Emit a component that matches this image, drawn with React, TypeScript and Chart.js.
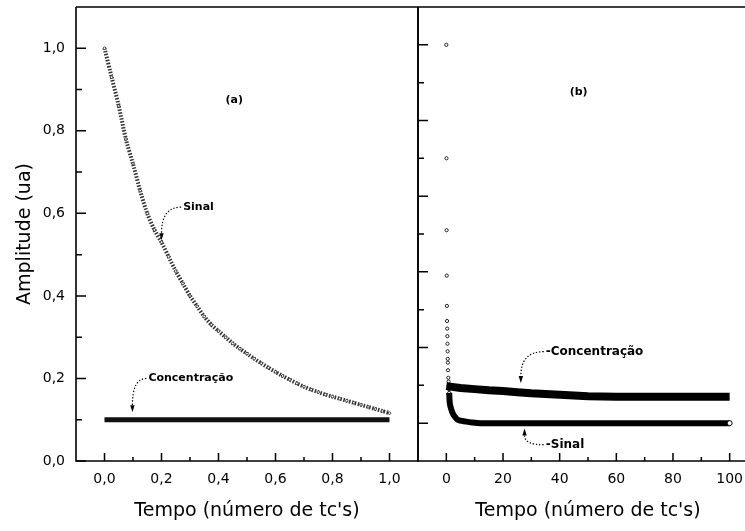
import React, { useEffect, useRef } from 'react';
import { Chart, registerables } from 'chart.js';

Chart.register(...registerables);

// ---------- Panel (a): time 0..1 tc ----------
const timeA = [0, 0.025, 0.05, 0.075, 0.1, 0.125, 0.15, 0.175, 0.2, 0.225, 0.25, 0.275, 0.3, 0.325, 0.35, 0.375, 0.4, 0.425, 0.45, 0.475, 0.5, 0.525, 0.55, 0.575, 0.6, 0.625, 0.65, 0.675, 0.7, 0.725, 0.75, 0.775, 0.8, 0.825, 0.85, 0.875, 0.9, 0.925, 0.95, 0.975, 1.0];
const sinalA = [1.0, 0.93, 0.86, 0.78, 0.72, 0.655, 0.6, 0.56, 0.53, 0.495, 0.46, 0.43, 0.4, 0.375, 0.35, 0.33, 0.315, 0.3, 0.285, 0.272, 0.26, 0.248, 0.237, 0.226, 0.216, 0.206, 0.197, 0.188, 0.18, 0.173, 0.167, 0.161, 0.156, 0.151, 0.146, 0.141, 0.136, 0.131, 0.126, 0.121, 0.116];
const concA = [0.1, 0.1, 0.1, 0.1, 0.1, 0.1, 0.1, 0.1, 0.1, 0.1, 0.1, 0.1, 0.1, 0.1, 0.1, 0.1, 0.1, 0.1, 0.1, 0.1, 0.1, 0.1, 0.1, 0.1, 0.1, 0.1, 0.1, 0.1, 0.1, 0.1, 0.1, 0.1, 0.1, 0.1, 0.1, 0.1, 0.1, 0.1, 0.1, 0.1, 0.1];

const xTicksA = [0, 0.2, 0.4, 0.6, 0.8, 1.0];
const xTickLabelsA = ['0,0', '0,2', '0,4', '0,6', '0,8', '1,0'];
const xMinorA = [0.1, 0.3, 0.5, 0.7, 0.9];
const yTicks = [0, 0.2, 0.4, 0.6, 0.8, 1.0];
const yTickLabels = ['0,0', '0,2', '0,4', '0,6', '0,8', '1,0'];
const yMinor = [0.1, 0.3, 0.5, 0.7, 0.9];

// ---------- Panel (b): time 0..100 tc ----------
const timeBFast = [0, 0.05, 0.1, 0.15, 0.2, 0.25, 0.3, 0.35, 0.4, 0.45, 0.5, 0.55, 0.6, 0.7, 0.8, 0.9, 1.0];
const sinalBFast = [1.0, 0.7, 0.51, 0.39, 0.31, 0.27, 0.25, 0.23, 0.21, 0.19, 0.17, 0.16, 0.14, 0.12, 0.11, 0.09, 0.08];
const timeBSinal = [1.0, 1.2, 1.6, 2.2, 3, 4, 5.5, 7, 9, 12, 16, 20, 30, 40, 50, 60, 70, 80, 90, 100];
const sinalB = [0.08, 0.054, 0.04, 0.027, 0.017, 0.009, 0.006, 0.004, 0.002, 0.0, 0.0, 0.0, 0.0, 0.0, 0.0, 0.0, 0.0, 0.0, 0.0, 0.0];
const timeBConc = [0, 2, 5, 10, 15, 20, 25, 30, 35, 40, 45, 50, 60, 70, 80, 90, 100];
const concB = [0.098, 0.096, 0.093, 0.09, 0.087, 0.085, 0.082, 0.079, 0.077, 0.075, 0.073, 0.071, 0.07, 0.07, 0.07, 0.07, 0.07];

const xTicksB = [0, 20, 40, 60, 80, 100];
const xTickLabelsB = ['0', '20', '40', '60', '80', '100'];
const xMinorB = [10, 30, 50, 70, 90];
const yTicksB = [0, 0.2, 0.4, 0.6, 0.8, 1.0];
const yMinorB = [0.1, 0.3, 0.5, 0.7, 0.9];

// ---------- annotations (data coordinates) ----------
const notesA = [
  { text: 'Sinal', x: 0.276, y: 0.615, tipX: 0.2, tipY: 0.535, dir: 1 },
  { text: 'Concentração', x: 0.154, y: 0.2, tipX: 0.098, tipY: 0.118, dir: 1 },
];
const panelLabelA = { text: '(a)', x: 0.455, y: 0.875 };
const notesB = [
  { text: '-Concentração', x: 35.1, y: 0.189, tipX: 26.3, tipY: 0.106, dir: 1 },
  { text: '-Sinal', x: 35.1, y: -0.057, tipX: 27.6, tipY: -0.014, dir: -1 },
];
const panelLabelB = { text: '(b)', x: 46.7, y: 0.875 };

const FAMILY = '"DejaVu Sans", "Liberation Sans", Arial, sans-serif';

function pts(xs: number[], ys: number[]) {
  return xs.map((x, i) => ({ x, y: ys[i] }));
}

function noPad(s: any) {
  s.paddingTop = 0;
  s.paddingBottom = 0;
  s.paddingLeft = 0;
  s.paddingRight = 0;
}

function drawArrow(ctx: CanvasRenderingContext2D, sx: number, sy: number, tx: number, ty: number, dir: number) {
  const head = 7;
  const ey = ty - dir * head;
  ctx.save();
  ctx.strokeStyle = '#000';
  ctx.fillStyle = '#000';
  ctx.setLineDash([1.4, 1.8]);
  ctx.lineWidth = 1.2;
  ctx.beginPath();
  ctx.moveTo(sx, sy);
  ctx.quadraticCurveTo(tx, sy, tx, ey);
  ctx.stroke();
  ctx.setLineDash([]);
  ctx.beginPath();
  ctx.moveTo(tx - 2.2, ey);
  ctx.lineTo(tx + 2.2, ey);
  ctx.lineTo(tx, ty);
  ctx.closePath();
  ctx.fill();
  ctx.restore();
}

function makeFrame(cfg: any) {
  return {
    id: 'frame_' + cfg.name,
    afterDraw(chart: any) {
      const { ctx, chartArea: a, scales } = chart;
      const xs = scales.x;
      const ys = scales.y;
      ctx.save();
      ctx.strokeStyle = '#000';
      ctx.lineWidth = 1.6;
      ctx.beginPath();
      ctx.moveTo(a.left, a.top);
      ctx.lineTo(a.right, a.top);
      ctx.moveTo(a.left, a.top);
      ctx.lineTo(a.left, a.bottom);
      ctx.moveTo(a.left - 0.8, a.bottom);
      ctx.lineTo(a.right + 0.8, a.bottom);
      ctx.moveTo(a.right, a.top);
      ctx.lineTo(a.right, a.bottom);
      ctx.stroke();

      ctx.lineWidth = 1.5;
      ctx.beginPath();
      cfg.xMajor.forEach((v: number) => {
        const px = xs.getPixelForValue(v);
        ctx.moveTo(px, a.bottom);
        ctx.lineTo(px, a.bottom - 8);
      });
      cfg.xMinor.forEach((v: number) => {
        const px = xs.getPixelForValue(v);
        ctx.moveTo(px, a.bottom);
        ctx.lineTo(px, a.bottom - 4);
      });
      cfg.yMajor.forEach((v: number) => {
        const py = ys.getPixelForValue(v);
        ctx.moveTo(a.left, py);
        ctx.lineTo(a.left + 10, py);
      });
      cfg.yMinor.forEach((v: number) => {
        const py = ys.getPixelForValue(v);
        ctx.moveTo(a.left, py);
        ctx.lineTo(a.left + 6, py);
      });
      ctx.stroke();

      ctx.fillStyle = '#000';
      ctx.textBaseline = 'middle';
      ctx.textAlign = 'left';
      cfg.notes.forEach((n: any) => {
        const tx = xs.getPixelForValue(n.x);
        const ty = ys.getPixelForValue(n.y);
        ctx.font = 'bold ' + cfg.noteSize + 'px ' + FAMILY;
        ctx.fillText(n.text, tx, ty);
        drawArrow(ctx, tx - 2, ty, xs.getPixelForValue(n.tipX), ys.getPixelForValue(n.tipY), n.dir);
      });
      ctx.font = 'bold 11px ' + FAMILY;
      ctx.textAlign = 'center';
      ctx.fillText(cfg.label.text, xs.getPixelForValue(cfg.label.x), ys.getPixelForValue(cfg.label.y));
      ctx.restore();
    },
  };
}

function xScale(min: number, max: number, ticks: number[], labels: string[]) {
  return {
    type: 'linear',
    min,
    max,
    afterBuildTicks: (s: any) => {
      s.ticks = ticks.map((v) => ({ value: v }));
    },
    afterFit: (s: any) => {
      s.height = 70;
      noPad(s);
    },
    grid: { display: false, drawTicks: false },
    border: { display: false },
    ticks: {
      autoSkip: false,
      maxRotation: 0,
      padding: 10,
      color: '#000',
      font: { family: FAMILY, size: 14 },
      callback: (_v: any, i: number) => labels[i],
    },
    title: {
      display: true,
      text: "Tempo (número de tc's)",
      color: '#000',
      font: { family: FAMILY, size: 19 },
      padding: { top: 0, bottom: 9 },
    },
  };
}

export default function App() {
  const refA = useRef<HTMLCanvasElement>(null);
  const refB = useRef<HTMLCanvasElement>(null);

  useEffect(() => {
    document.body.style.margin = '0';
    const chartA = new Chart(refA.current as HTMLCanvasElement, {
      type: 'line',
      data: {
        datasets: [
          {
            label: 'Concentração',
            data: pts(timeA, concA),
            borderColor: '#111',
            borderWidth: 5,
            pointRadius: 0,
            tension: 0,
          },
          {
            label: 'Sinal',
            data: pts(timeA, sinalA),
            borderColor: '#333',
            borderWidth: 4,
            borderDash: [1.5, 1.5],
            pointRadius: 1.3,
            pointBorderWidth: 0.8,
            pointBackgroundColor: '#fff',
            pointBorderColor: '#222',
            tension: 0.3,
          },
        ],
      } as any,
      options: {
        responsive: false,
        animation: false,
        devicePixelRatio: 1,
        layout: { autoPadding: false, padding: { left: 0, right: 2, top: 7, bottom: 0 } },
        plugins: { legend: { display: false }, tooltip: { enabled: false } },
        scales: {
          x: xScale(-0.1, 1.1, xTicksA, xTickLabelsA),
          y: {
            type: 'linear',
            min: 0,
            max: 1.1,
            afterBuildTicks: (s: any) => {
              s.ticks = yTicks.map((v) => ({ value: v }));
            },
            afterFit: (s: any) => {
              s.width = 76;
              noPad(s);
            },
            grid: { display: false, drawTicks: false },
            border: { display: false },
            ticks: {
              autoSkip: false,
              padding: 11,
              color: '#000',
              font: { family: FAMILY, size: 14 },
              callback: (_v: any, i: number) => yTickLabels[i],
            },
            title: {
              display: true,
              text: 'Amplitude (ua)',
              color: '#000',
              font: { family: FAMILY, size: 19 },
              padding: { top: 14, bottom: 0 },
            },
          },
        } as any,
      },
      plugins: [
        makeFrame({ name: 'a', xMajor: xTicksA, xMinor: xMinorA, yMajor: yTicks, yMinor: yMinor, notes: notesA, label: panelLabelA, noteSize: 11 }),
      ],
    });

    const chartB = new Chart(refB.current as HTMLCanvasElement, {
      type: 'line',
      data: {
        datasets: [
          {
            label: 'Concentração',
            data: pts(timeBConc, concB),
            borderColor: '#000',
            borderWidth: 8,
            pointRadius: 0,
            tension: 0,
          },
          {
            label: 'Sinal',
            data: pts(timeBSinal, sinalB),
            borderColor: '#000',
            borderWidth: 6,
            tension: 0.3,
            pointRadius: (c: any) => (c.dataIndex === timeBSinal.length - 1 ? 2.5 : 0),
            pointBackgroundColor: '#fff',
            pointBorderColor: '#000',
            pointBorderWidth: 1,
          },
          {
            label: 'Sinal (início)',
            data: pts(timeBFast, sinalBFast),
            showLine: false,
            pointRadius: 1.6,
            pointBorderWidth: 1,
            pointBackgroundColor: '#fff',
            pointBorderColor: '#222',
          },
        ],
      } as any,
      options: {
        responsive: false,
        animation: false,
        devicePixelRatio: 1,
        layout: { autoPadding: false, padding: { left: 10, right: 12, top: 7, bottom: 0 } },
        plugins: { legend: { display: false }, tooltip: { enabled: false } },
        scales: {
          x: xScale(-10, 110, xTicksB, xTickLabelsB),
          y: { type: 'linear', display: false, min: -0.1, max: 1.1 },
        } as any,
      },
      plugins: [
        makeFrame({ name: 'b', xMajor: xTicksB, xMinor: xMinorB, yMajor: yTicksB, yMinor: yMinorB, notes: notesB, label: panelLabelB, noteSize: 12 }),
      ],
    });

    return () => {
      chartA.destroy();
      chartB.destroy();
    };
  }, []);

  return (
    <div style={{ position: 'relative', width: 745, height: 531, overflow: 'hidden', background: '#fff' }}>
      <canvas ref={refA} width={420} height={531} style={{ position: 'absolute', left: 0, top: 0, width: 420, height: 531 }} />
      <canvas ref={refB} width={362} height={531} style={{ position: 'absolute', left: 408, top: 0, width: 362, height: 531 }} />
    </div>
  );
}
